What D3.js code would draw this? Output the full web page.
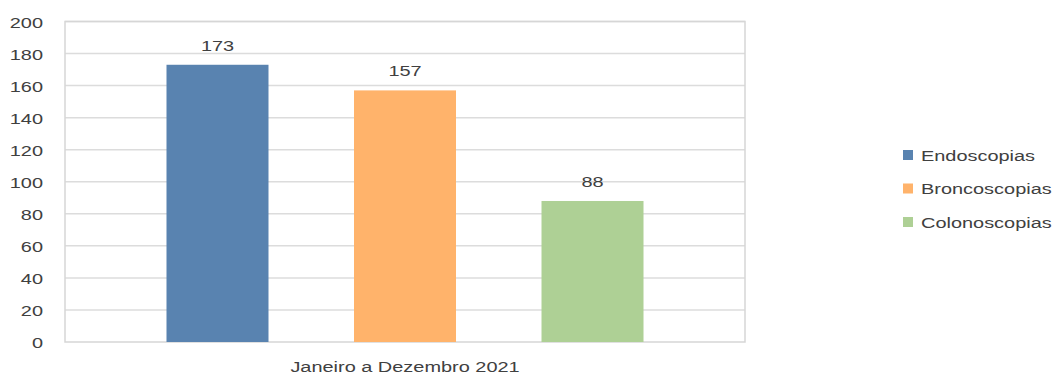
<!DOCTYPE html>
<html>
<head>
<meta charset="utf-8">
<script src="https://cdn.jsdelivr.net/npm/d3@7"></script>
<style>
  html, body { margin: 0; padding: 0; background: #fff; }
  svg { display: block; }
  text { font-family: "Liberation Sans", Arial, sans-serif; fill: #404040; }
</style>
</head>
<body>
<svg id="chart" width="1055" height="375"></svg>
<script>
// Exames realizados no período
const categories = ["Janeiro a Dezembro 2021"];
const seriesNames = ["Endoscopias", "Broncoscopias", "Colonoscopias"];
const seriesValues = [173, 157, 88];
const seriesColors = ["#5983B0", "#FFB36B", "#AED095"];
const yTicks = [0, 20, 40, 60, 80, 100, 120, 140, 160, 180, 200];

const svg = d3.select("#chart");
const plot = { left: 65, right: 745, top: 21.5, bottom: 342 };
const SX = 1.33; // horizontal stretch of lettering
const fontSize = 15;

const y = d3.scaleLinear().domain([0, 200]).range([plot.bottom, plot.top]);
const x0 = d3.scaleBand().domain(categories).range([plot.left, plot.right]);
const x1 = d3.scaleBand().domain(seriesNames)
  .range([plot.left, plot.right])
  .paddingInner(0.456)
  .paddingOuter(0.5413);

// gridlines
svg.append("g")
  .selectAll("line")
  .data(yTicks.filter(d => d > 0))
  .join("line")
  .attr("x1", plot.left).attr("x2", plot.right)
  .attr("y1", d => y(d)).attr("y2", d => y(d))
  .attr("stroke", "#dcdcdc").attr("stroke-width", 1.5);

// plot frame
svg.append("rect")
  .attr("x", plot.left).attr("y", plot.top)
  .attr("width", plot.right - plot.left).attr("height", plot.bottom - plot.top)
  .attr("fill", "none").attr("stroke", "#d6d6d6").attr("stroke-width", 1.5);

// bars
svg.append("g")
  .selectAll("rect")
  .data(seriesNames.map((n, i) => ({ name: n, value: seriesValues[i], color: seriesColors[i] })))
  .join("rect")
  .attr("x", d => x1(d.name))
  .attr("width", x1.bandwidth())
  .attr("y", d => y(d.value))
  .attr("height", d => y(0) - y(d.value))
  .attr("fill", d => d.color);

// value labels
svg.append("g")
  .selectAll("text")
  .data(seriesNames.map((n, i) => ({ name: n, value: seriesValues[i] })))
  .join("text")
  .attr("transform", d => `translate(${x1(d.name) + x1.bandwidth() / 2},${y(d.value) - 14}) scale(${SX},1)`)
  .attr("text-anchor", "middle")
  .attr("font-size", fontSize)
  .text(d => d.value);

// y axis
const yAxis = svg.append("g")
  .attr("transform", `translate(${plot.left},0)`)
  .call(d3.axisLeft(y).tickValues(yTicks).tickSize(0).tickPadding(0));
yAxis.select(".domain").remove();
yAxis.selectAll("text")
  .attr("x", null).attr("dy", null)
  .attr("transform", `translate(-22,5.5) scale(${SX},1)`)
  .attr("font-size", fontSize)
  .attr("font-family", null)
  .style("fill", "#404040");

// x axis
const xAxis = svg.append("g")
  .attr("transform", `translate(0,${plot.bottom})`)
  .call(d3.axisBottom(x0).tickSize(0).tickPadding(0));
xAxis.select(".domain").remove();
xAxis.selectAll("text")
  .attr("y", null).attr("dy", null)
  .attr("transform", `translate(0,30) scale(${SX},1)`)
  .attr("font-size", fontSize)
  .attr("font-family", null)
  .style("fill", "#404040");

// legend
const legend = svg.append("g");
const legendY = [155, 188.5, 222];
seriesNames.forEach((n, i) => {
  const g = legend.append("g").attr("transform", `translate(903,${legendY[i]})`);
  g.append("rect").attr("x", 0).attr("y", -5).attr("width", 10).attr("height", 10).attr("fill", seriesColors[i]);
  g.append("text")
    .attr("transform", `translate(18,5.5) scale(${SX},1)`)
    .attr("font-size", fontSize)
    .text(n);
});
</script>
</body>
</html>
